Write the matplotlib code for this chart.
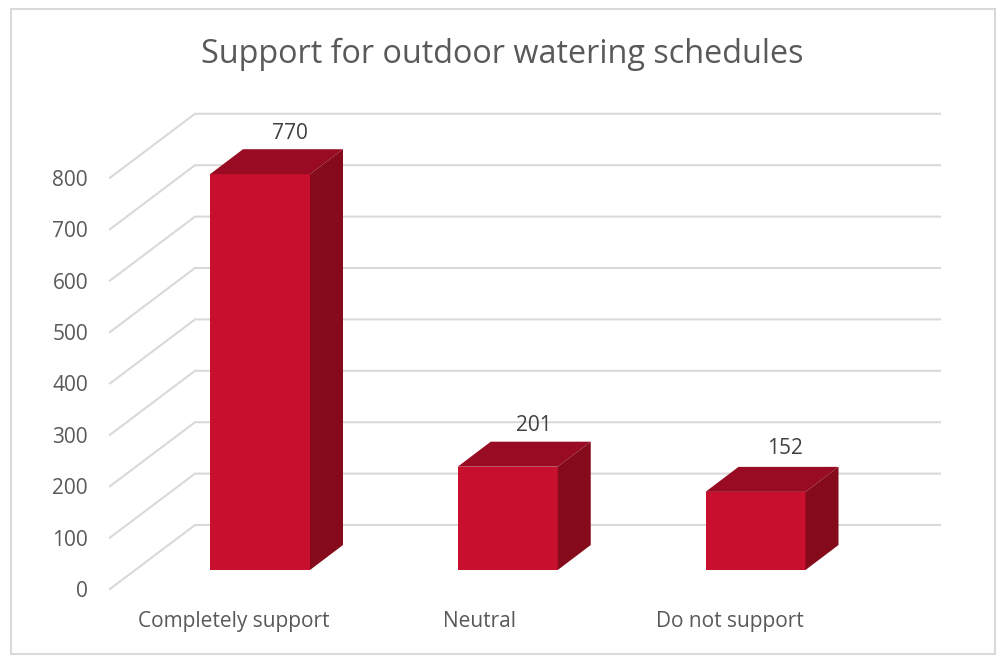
import matplotlib
matplotlib.use("Agg")
import matplotlib.pyplot as plt
from matplotlib.patches import Polygon, Rectangle

categories = ["Completely support", "Neutral", "Do not support"]
values = [770, 201, 152]
y_ticks = [0, 100, 200, 300, 400, 500, 600, 700, 800]
title = "Support for outdoor watering schedules"

plt.rcParams["font.family"] = ["Open Sans", "DejaVu Sans"]

W, H = 997, 655
fig = plt.figure(figsize=(W / 100, H / 100), dpi=100)
ax = fig.add_axes([0, 0, 1, 1])

# value 0 of the bars' front face sits at y=570px, 0.514 px per unit
# x is in category units, 247.75 px per category, first centre at 260px
PX_X = 247.75
PX_Y = 0.514
ax.set_xlim(-260 / PX_X, (W - 260) / PX_X)
ax.set_ylim(-(H - 570) / PX_Y, 570 / PX_Y)
ax.axis("off")

bar_w = 100 / PX_X
bar_dx, bar_dy = 33 / PX_X, 25 / PX_Y
front_x, front_y = (110 - 260) / PX_X, -19 / PX_Y
wall_dx, wall_dy = 85 / PX_X, 64 / PX_Y
wall_right = (940 - 260) / PX_X

# label nudges in px, the labels don't sit evenly over the bars
label_dx = [30, 26, 29]
label_dy = [35, 36, 38]
name_dx = [-26, -28, -26]

grid_c = "#d9d9d9"
for t in y_ticks:
    y0 = front_y + t
    ax.plot([front_x, front_x + wall_dx, wall_right], [y0, y0 + wall_dy, y0 + wall_dy],
            color=grid_c, lw=1.5, solid_joinstyle="miter", zorder=1)
    ax.text(front_x - 22 / PX_X, y0 - 8 / PX_Y, str(t), ha="right", va="baseline", fontsize=15, color="#595959")

for i, (name, v) in enumerate(zip(categories, values)):
    x0, x1 = i - bar_w / 2, i + bar_w / 2
    ax.add_patch(Rectangle((x0, 0), bar_w, v, fc="#c8102e", ec="none", zorder=3))
    ax.add_patch(Polygon([(x0, v), (x1, v), (x1 + bar_dx, v + bar_dy), (x0 + bar_dx, v + bar_dy)],
                         fc="#980b22", ec="none", zorder=3))
    ax.add_patch(Polygon([(x1, 0), (x1 + bar_dx, bar_dy), (x1 + bar_dx, v + bar_dy), (x1, v)],
                         fc="#850a1c", ec="none", zorder=3))
    ax.text(i + label_dx[i] / PX_X, v + label_dy[i] / PX_Y, str(v), ha="center", va="baseline",
            fontsize=15, color="#404040")
    ax.text(i + name_dx[i] / PX_X, -57 / PX_Y, name, ha="center", va="baseline", fontsize=15, color="#595959")

fig.text(502 / W, 1 - 54 / H, title, ha="center", va="center", fontsize=23.3, color="#595959")

# chart frame
fig.add_artist(Rectangle((10.5 / W, 1 - 654 / H), 984.5 / W, 645 / H, transform=fig.transFigure,
                         fc="none", ec=grid_c, lw=1.5))

fig.savefig("out.png", dpi=100)
